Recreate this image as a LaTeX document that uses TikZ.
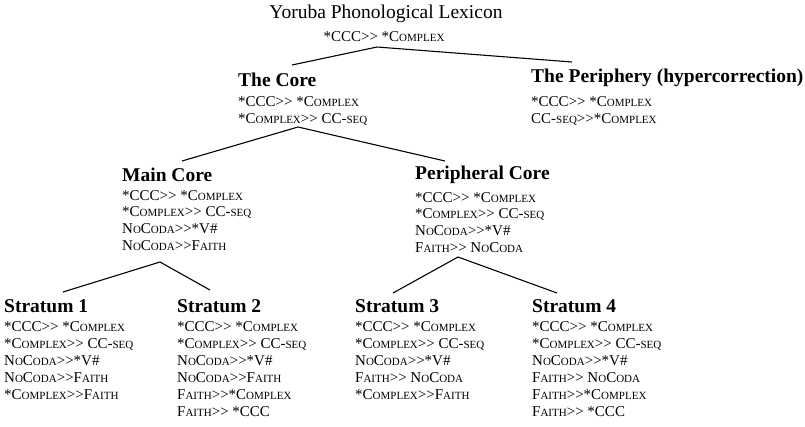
\documentclass[tikz,border=0pt]{standalone}
\usepackage{fontspec}
\setmainfont{Liberation Serif}[Ligatures=TeXOff]
% faked small capitals for constraint names
\newcommand\sk[1]{{\fontsize{11}{11}\selectfont #1}}
\begin{document}
\begin{tikzpicture}[x=1pt,y=-1pt,
  head/.style={font=\fontsize{19.5}{20}\selectfont\bfseries, inner sep=0pt, anchor=west},
  rules/.style={font=\fontsize{15}{17}\selectfont, align=left, inner sep=0pt, anchor=north west},
  branch/.style={line width=1.1pt}]
\useasboundingbox (0,0) rectangle (805,426);

% root
\node[font=\fontsize{19.5}{20}\selectfont, inner sep=0pt] (root) at (386,14) {Yoruba Phonological Lexicon};
\node[font=\fontsize{15}{17}\selectfont, inner sep=0pt] (rootr) at (384,37) {*CCC>> *C\sk{OMPLEX}};

% second level
\node[head] (core) at (238,80) {The Core};
\node[rules, font=\fontsize{15}{17.5}\selectfont, yshift=-9pt] (corer) at (core.south west) {*CCC>> *C\sk{OMPLEX}\\*C\sk{OMPLEX}>> CC-\sk{SEQ}};
\node[head] (peri) at (531,78) {The Periphery (hypercorrection)};
\node[rules, font=\fontsize{15}{17.5}\selectfont, yshift=-9pt] (perir) at (peri.south west) {*CCC>> *C\sk{OMPLEX}\\CC-\sk{SEQ}>>*C\sk{OMPLEX}};

% third level
\node[head] (main) at (122,175) {Main Core};
\node[rules, font=\fontsize{15}{16.7}\selectfont, yshift=-8pt] (mainr) at (main.south west) {*CCC>> *C\sk{OMPLEX}\\*C\sk{OMPLEX}>> CC-\sk{SEQ}\\N\sk{O}C\sk{ODA}>>*V\#\\N\sk{O}C\sk{ODA}>>F\sk{AITH}};
\node[head] (pcore) at (415,175) {Peripheral Core};
\node[rules, font=\fontsize{15}{16.7}\selectfont, yshift=-8pt] (pcorer) at (pcore.south west) {*CCC>> *C\sk{OMPLEX}\\*C\sk{OMPLEX}>> CC-\sk{SEQ}\\N\sk{O}C\sk{ODA}>>*V\#\\F\sk{AITH}>> N\sk{O}C\sk{ODA}};

% strata
\node[head] (s1) at (4,306) {Stratum 1};
\node[rules, yshift=-9pt] (s1r) at (s1.south west) {*CCC>> *C\sk{OMPLEX}\\*C\sk{OMPLEX}>> CC-\sk{SEQ}\\N\sk{O}C\sk{ODA}>>*V\#\\N\sk{O}C\sk{ODA}>>F\sk{AITH}\\*C\sk{OMPLEX}>>F\sk{AITH}};
\node[head] (s2) at (177,306) {Stratum 2};
\node[rules, yshift=-9pt] (s2r) at (s2.south west) {*CCC>> *C\sk{OMPLEX}\\*C\sk{OMPLEX}>> CC-\sk{SEQ}\\N\sk{O}C\sk{ODA}>>*V\#\\N\sk{O}C\sk{ODA}>>F\sk{AITH}\\F\sk{AITH}>>*C\sk{OMPLEX}\\F\sk{AITH}>> *CCC};
\node[head] (s3) at (355,306) {Stratum 3};
\node[rules, yshift=-9pt] (s3r) at (s3.south west) {*CCC>> *C\sk{OMPLEX}\\*C\sk{OMPLEX}>> CC-\sk{SEQ}\\N\sk{O}C\sk{ODA}>>*V\#\\F\sk{AITH}>> N\sk{O}C\sk{ODA}\\*C\sk{OMPLEX}>>F\sk{AITH}};
\node[head] (s4) at (532,306) {Stratum 4};
\node[rules, yshift=-9pt] (s4r) at (s4.south west) {*CCC>> *C\sk{OMPLEX}\\*C\sk{OMPLEX}>> CC-\sk{SEQ}\\N\sk{O}C\sk{ODA}>>*V\#\\F\sk{AITH}>> N\sk{O}C\sk{ODA}\\F\sk{AITH}>>*C\sk{OMPLEX}\\F\sk{AITH}>> *CCC};

% branch points and branch ends
\coordinate (rootA) at (377,47);
\coordinate (rootL) at (292,65);
\coordinate (rootR) at (572,62);
\coordinate (coreA) at (298,127);
\coordinate (coreL) at (182,161);
\coordinate (coreR) at (445,161);
\coordinate (mainA) at (160,262);
\coordinate (mainL) at (63,292);
\coordinate (mainR) at (210,290);
\coordinate (pcoreA) at (458,257);
\coordinate (pcoreL) at (393,293);
\coordinate (pcoreR) at (557,293);

\draw[branch] (rootL) -- (rootA) -- (rootR);
\draw[branch] (coreL) -- (coreA) -- (coreR);
\draw[branch] (mainL) -- (mainA) -- (mainR);
\draw[branch] (pcoreL) -- (pcoreA) -- (pcoreR);
\end{tikzpicture}
\end{document}
